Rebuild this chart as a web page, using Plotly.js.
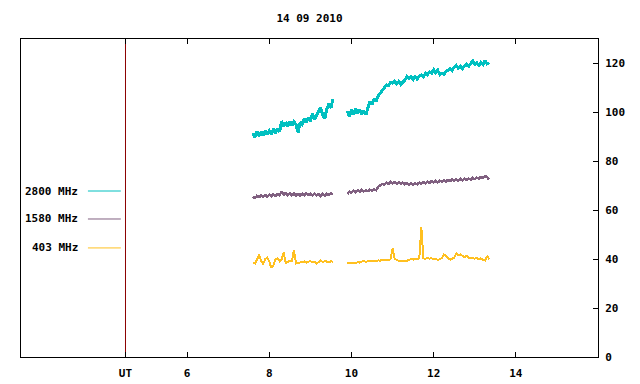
<!DOCTYPE html>
<html>
<head>
<meta charset="utf-8">
<script src="https://cdn.plot.ly/plotly-3.0.1.min.js"></script>
<style>html,body{margin:0;padding:0;background:#fff}#chart{width:640px;height:384px}
.scatterlayer path{shape-rendering:crispEdges}</style>
</head>
<body>
<div id="chart"></div>
<script>
// ---- data (hours UT, sample step 0.05 h) ----
const title = "14 09 2010";
const seriesNames = ["2800 MHz", "1580 MHz", "403 MHz"];
const seriesColors = ["#00c0c0", "#806080", "#ffc020"];
const seg1Start = 7.60;
const seg2Start = 9.90;
const sampleStep = 0.05;
const xTickVals = [4.5, 6, 8, 10, 12, 14];
const xTickText = ["UT", "6", "8", "10", "12", "14"];
const yTickVals = [0, 20, 40, 60, 80, 100, 120];
const utMarker = 4.5;

const f2800a = [91.5,89.8,92.2,90.4,92.0,90.6,92.6,90.9,92.4,91.0,
                93.3,91.6,93.5,92.0,96.5,94.2,96.0,94.4,96.4,94.6,
                96.2,95.0,91.8,96.0,95.2,97.4,95.8,98.0,96.3,99.4,
                97.2,99.0,100.6,102.0,99.0,97.4,101.5,103.5,101.8,105.5];
const f2800b = [100.5,98.2,101.0,99.0,101.6,99.4,101.2,99.3,100.8,99.0,
                101.8,104.5,103.2,105.6,104.4,106.8,107.9,109.2,110.0,111.2,
                111.0,112.3,112.0,112.8,111.6,112.6,111.4,112.4,113.2,114.6,
                113.8,114.5,113.4,114.6,113.6,114.8,115.2,114.6,116.0,115.4,
                116.6,116.0,117.4,116.2,117.2,115.4,116.0,115.6,116.8,117.2,
                118.0,117.2,118.6,119.2,118.0,118.8,117.9,118.9,119.6,118.8,
                120.0,121.0,119.6,120.2,119.2,120.4,119.6,121.2,119.8,120.4];
const f1580a = [65.6,65.0,65.9,65.3,66.0,65.4,66.2,65.6,66.4,65.8,
                66.5,65.9,66.6,66.0,67.8,66.4,67.0,66.2,66.9,66.1,
                66.8,66.0,66.7,66.0,66.8,66.1,66.9,66.2,66.7,66.0,
                66.8,66.1,66.6,65.8,66.7,66.0,66.8,66.2,66.9,66.5];
const f1580b = [66.6,67.6,67.2,68.0,67.4,68.2,67.6,68.3,67.7,68.2,
                67.8,68.4,68.0,68.5,68.2,69.6,70.2,70.8,70.4,71.2,
                70.8,71.6,71.0,71.5,70.9,71.4,70.8,71.3,70.6,71.2,
                70.5,71.1,70.4,71.0,70.6,71.3,70.8,71.5,71.0,71.7,
                71.2,71.9,71.3,72.0,71.4,72.1,71.6,72.3,71.8,72.4,
                71.9,72.6,72.0,72.6,72.1,72.8,72.2,72.9,72.4,73.0,
                72.5,73.2,72.7,73.3,72.9,73.6,73.2,74.0,73.5,72.6];
const f403a = [38.7,38.2,39.7,41.9,39.4,37.9,40.0,40.6,39.0,36.4,
               37.6,39.8,40.4,39.2,40.0,42.8,38.4,38.9,39.4,39.2,
               43.8,38.2,38.4,38.5,38.9,39.1,38.6,38.8,39.2,38.7,
               38.9,38.2,38.8,39.4,38.8,39.2,39.0,38.7,39.2,38.9];
const f403b = [38.6,38.5,38.7,38.4,38.3,38.8,38.6,39.0,39.2,38.9,
               39.1,39.3,39.0,39.4,39.2,39.5,39.4,39.7,39.6,39.8,
               39.7,39.9,44.4,40.3,39.6,39.3,39.4,39.3,39.2,39.4,
               39.6,40.1,39.8,40.2,39.9,40.3,53.0,40.4,40.1,40.5,
               40.2,40.4,39.9,40.2,39.6,40.0,40.4,41.8,41.4,40.6,
               39.8,40.2,40.6,42.4,41.6,42.0,41.2,40.8,41.3,40.6,
               40.3,40.5,40.2,40.4,39.9,40.3,39.8,39.4,41.3,40.0];

// ---- build traces ----
function timesFor(start, n) {
  const t = [];
  for (let i = 0; i < n; i++) t.push(+(start + i * sampleStep).toFixed(3));
  return t;
}
function joined(a, b) {
  const x = timesFor(seg1Start, a.length).concat([null], timesFor(seg2Start, b.length));
  const y = a.concat([null], b);
  return {x, y};
}
const seriesData = [joined(f2800a, f2800b), joined(f1580a, f1580b), joined(f403a, f403b)];
const lineWidths = [3, 2.5, 2];

const font = {family: "DejaVu Sans Mono, monospace", size: 11, color: "#000", weight: "bold"};

const traces = seriesData.map((d, i) => ({
  type: "scatter", mode: "lines", x: d.x, y: d.y, name: seriesNames[i],
  line: {color: seriesColors[i], width: lineWidths[i]}, connectgaps: false, showlegend: false,
  hoverinfo: "skip"
}));
traces.reverse();

// legend (gnuplot style: text, then sample line)
const legendY = [0.522, 0.434, 0.343];
const annotations = seriesNames.map((n, i) => ({
  text: n, xref: "paper", yref: "paper", x: 0.103, y: legendY[i],
  xanchor: "right", yanchor: "middle", showarrow: false, font: font
}));
const shapes = seriesNames.map((n, i) => ({
  type: "line", xref: "paper", yref: "paper", x0: 0.116, x1: 0.173,
  y0: legendY[i], y1: legendY[i], line: {color: seriesColors[i], width: 1}
}));
shapes.push({type: "line", xref: "x", yref: "paper", x0: utMarker, x1: utMarker,
  y0: 0, y1: 1, line: {color: "#8b0000", width: 1}, layer: "below"});

const layout = {
  width: 640, height: 384,
  margin: {l: 21, r: 42, t: 39, b: 27, pad: 0},
  paper_bgcolor: "#fff", plot_bgcolor: "#fff",
  title: {text: title, font: font, x: 0.5, xref: "paper", y: 1 - 18/384, yref: "container", yanchor: "middle"},
  xaxis: {range: [1.957, 16], tickvals: xTickVals, ticktext: xTickText, ticks: "inside", ticklen: 5,
    tickcolor: "#000", showline: true, linecolor: "#000", linewidth: 1, mirror: "ticks",
    showgrid: false, zeroline: false, tickfont: font, ticklabelstandoff: 6},
  yaxis: {range: [0, 130], side: "right", tickvals: yTickVals, ticks: "inside", ticklen: 5,
    tickcolor: "#000", showline: true, linecolor: "#000", linewidth: 1, mirror: true,
    showgrid: false, zeroline: false, tickfont: font, ticklabelstandoff: 4},
  annotations: annotations, shapes: shapes, showlegend: false
};
Plotly.newPlot("chart", traces, layout, {staticPlot: true, displayModeBar: false});
</script>
</body>
</html>
